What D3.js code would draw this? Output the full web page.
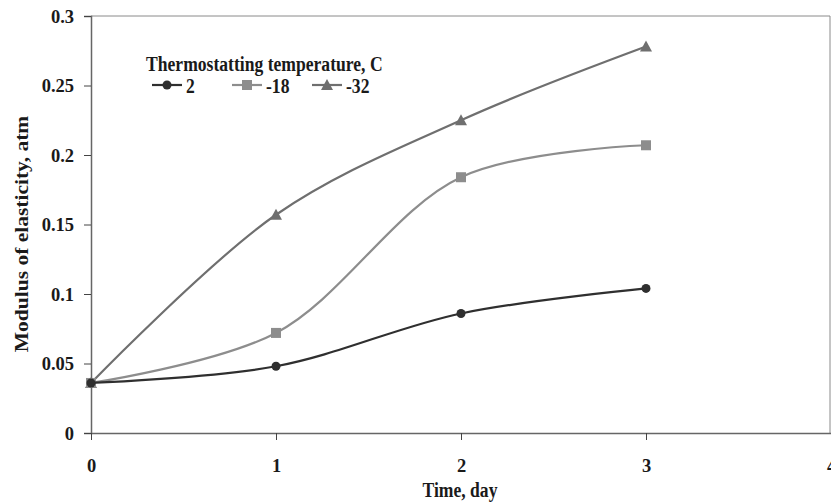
<!DOCTYPE html>
<html><head><meta charset="utf-8">
<script src="https://cdn.jsdelivr.net/npm/d3@7"></script>
<style>body{margin:0;background:#fff}svg{display:block}text{font-family:"Liberation Serif","Times New Roman",serif;font-weight:bold;fill:#1a1a1a}</style>
</head><body><svg id="c" width="831" height="502"></svg>
<script>
const days = [0, 1, 2, 3];
const series2 = [0.036, 0.048, 0.086, 0.104];
const seriesM18 = [0.036, 0.072, 0.184, 0.207];
const seriesM32 = [0.036, 0.157, 0.225, 0.278];
const seriesNames = ["2", "-18", "-32"];
const xTicks = [0, 1, 2, 3, 4];
const yTicks = [0, 0.05, 0.1, 0.15, 0.2, 0.25, 0.3];
const legendTitle = "Thermostatting temperature, C";
const xTitle = "Time, day";
const yTitle = "Modulus of elasticity, atm";

const svg = d3.select("#c");
const L = 91, R = 830, T = 16, B = 433;
const x = d3.scaleLinear().domain([0, 4]).range([L, L + 740]);
const y = d3.scaleLinear().domain([0, 0.3]).range([B, T]);
const SX = 0.88; // horizontal squeeze of the reference typography

const styles = [
  {color: "#2f2f2f", marker: "circle"},
  {color: "#8d8d8d", marker: "square"},
  {color: "#6f6f6f", marker: "triangle"}
];
const data = [series2, seriesM18, seriesM32];

// plot border (top and right)
svg.append("path").attr("d", `M${L},${T}H${R}V${B}`).attr("fill", "none").attr("stroke", "#8a8a8a").attr("stroke-width", 1);

// axes
const yAxis = svg.append("g").attr("transform", `translate(${L},0)`)
  .call(d3.axisLeft(y).tickValues(yTicks).tickSize(7).tickPadding(10).tickFormat(d => String(+d.toFixed(2))));
const xAxis = svg.append("g").attr("transform", `translate(0,${B})`)
  .call(d3.axisBottom(x).tickValues(xTicks).tickSizeInner(7).tickSizeOuter(0).tickPadding(20).tickFormat(d3.format("d")));
[yAxis, xAxis].forEach(a => {
  a.select(".domain").attr("stroke", "#666").attr("stroke-width", 1.5);
  a.selectAll(".tick line").attr("stroke", "#444");
  a.selectAll("text").style("font-size", "18.5px").style("font-family", "Liberation Serif").style("font-weight", "bold").attr("fill", "#1a1a1a");
});
yAxis.selectAll("text").attr("dy", "0.34em");
xAxis.selectAll("text").attr("dy", "0.66em");

const line = d3.line().x((d, i) => x(days[i])).y(d => y(d)).curve(d3.curveCatmullRom.alpha(0.5));

function drawMarker(g, type, cx, cy, color) {
  if (type === "circle") g.append("circle").attr("cx", cx).attr("cy", cy).attr("r", 4.5).attr("fill", color);
  else if (type === "square") g.append("rect").attr("x", cx - 5).attr("y", cy - 5).attr("width", 10).attr("height", 10).attr("fill", color);
  else g.append("path").attr("d", `M${cx},${cy - 6}L${cx + 6},${cy + 5}L${cx - 6},${cy + 5}Z`).attr("fill", color);
}

// draw order: -32, -18, 2
[2, 1, 0].forEach(k => {
  const g = svg.append("g");
  g.append("path").attr("d", line(data[k])).attr("fill", "none").attr("stroke", styles[k].color).attr("stroke-width", 2.2);
  data[k].forEach((v, i) => drawMarker(g, styles[k].marker, x(days[i]), y(v), styles[k].color));
});

function sqText(px, py, str, size, anchor) {
  return svg.append("text").attr("transform", `translate(${px},${py}) scale(${SX},1)`)
    .attr("text-anchor", anchor || "start").style("font-size", size + "px").text(str);
}

// legend (equal-width entries)
sqText(146, 71, legendTitle, 20);
const legendX0 = 152, legendStep = 80, legendY = 85;
seriesNames.forEach((n, k) => {
  const g = svg.append("g");
  const lx = legendX0 + k * legendStep;
  g.append("line").attr("x1", lx).attr("x2", lx + 30).attr("y1", legendY).attr("y2", legendY).attr("stroke", styles[k].color).attr("stroke-width", 2.2);
  drawMarker(g, styles[k].marker, lx + 15, legendY, styles[k].color);
  sqText(lx + 34, legendY + 8, n, 20);
});

// titles
sqText(460, 497, xTitle, 20, "middle");
svg.append("text").attr("transform", `translate(28,234) rotate(-90) scale(1,${SX})`)
  .attr("text-anchor", "middle").style("font-size", "21.5px").text(yTitle);
</script></body></html>
